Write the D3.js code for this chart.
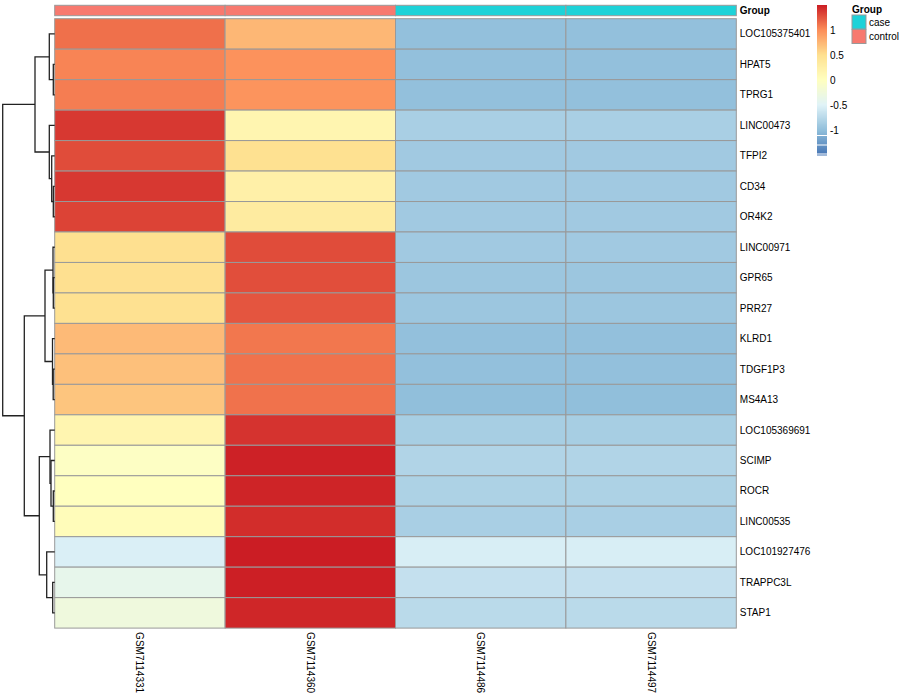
<!DOCTYPE html>
<html>
<head>
<meta charset="utf-8">
<script src="https://cdn.jsdelivr.net/npm/d3@7"></script>
<style>
  html, body { margin: 0; padding: 0; background: #fff; }
  svg { display: block; font-family: "Liberation Sans", Arial, Helvetica, sans-serif; }
</style>
</head>
<body>
<svg id="chart" width="900" height="700"></svg>
<script>
// ---------------- data ----------------
const genes = ["LOC105375401","HPAT5","TPRG1","LINC00473","TFPI2","CD34","OR4K2",
  "LINC00971","GPR65","PRR27","KLRD1","TDGF1P3","MS4A13",
  "LOC105369691","SCIMP","ROCR","LINC00535","LOC101927476","TRAPPC3L","STAP1"];
const samples = ["GSM7114331","GSM7114360","GSM7114486","GSM7114497"];
const sampleGroup = ["control","control","case","case"];
const groups = ["case","control"];
const groupColors = ["#1DD2D8","#F7796F"];

// row-scaled expression (z-scores), one array per sample column
const valGSM7114331 = [1.13,1.04,1.07,1.38,1.29,1.38,1.33,0.50,0.50,0.49,0.73,0.69,0.66,0.16,-0.04,0.00,0.05,-0.54,-0.39,-0.26];
const valGSM7114360 = [0.75,0.97,0.96,0.16,0.49,0.25,0.33,1.29,1.28,1.25,1.10,1.12,1.12,1.40,1.48,1.47,1.43,1.50,1.49,1.46];
const valGSM7114486 = [-0.99,-0.99,-0.99,-0.85,-0.90,-0.90,-0.90,-0.90,-0.93,-0.93,-0.99,-0.99,-1.00,-0.86,-0.80,-0.82,-0.85,-0.55,-0.68,-0.74];
const valGSM7114497 = [-0.99,-0.99,-0.99,-0.85,-0.90,-0.90,-0.90,-0.90,-0.93,-0.93,-0.99,-0.99,-1.00,-0.86,-0.80,-0.82,-0.85,-0.55,-0.68,-0.74];
const columns = [valGSM7114331, valGSM7114360, valGSM7114486, valGSM7114497];

// row dendrogram in hclust "merge" format: [left, right, height]; negative = leaf (1-based display row)
const merges = [
  [-2,-3,1.4],[-1,1,5.4],[-6,-7,1.4],[-5,3,3.0],[-4,4,5.4],[2,5,19.7],
  [-9,-10,1.4],[-8,7,1.7],[-12,-13,1.5],[-11,9,2.2],[8,10,9.7],
  [-16,-17,1.4],[-15,12,3.7],[-14,13,4.7],[-19,-20,2.0],[-18,15,8.0],
  [14,16,15.4],[11,17,30.4],[6,18,52.0]
];

// colour legend
const colorStops = [-1.5,-1,-0.5,0,0.5,1,1.5];
const colorRange = ["#4575B4","#91BFDB","#E0F3F8","#FFFFBF","#FEE090","#FC8D59","#CB1D24"];
const legendTicks = [1,0.5,0,-0.5,-1];
const legendTickLabels = ["1","0.5","0","-0.5","-1"];

// ---------------- drawing ----------------
const svg = d3.select("#chart");
const hm = {x0: 54.7, x1: 736.3, y0: 18.7, y1: 628.1};
const ann = {y0: 5.3, y1: 15.7};
const gridColor = "#999999";

const x = d3.scaleBand().domain(samples).range([hm.x0, hm.x1]).padding(0);
const y = d3.scaleBand().domain(genes).range([hm.y0, hm.y1]).padding(0);
const color = d3.scaleLinear().domain(colorStops).range(colorRange).interpolate(d3.interpolateRgb).clamp(true);
const groupColor = d3.scaleOrdinal().domain(groups).range(groupColors);

// annotation bar
svg.append("g").selectAll("rect").data(samples).join("rect")
  .attr("x", d => x(d)).attr("y", ann.y0)
  .attr("width", x.bandwidth()).attr("height", ann.y1 - ann.y0)
  .attr("fill", (d,i) => groupColor(sampleGroup[i]))
  .attr("stroke", gridColor).attr("stroke-width", 1);
svg.append("text").attr("x", hm.x1 + 3.5).attr("y", (ann.y0+ann.y1)/2)
  .attr("dy","0.35em").attr("font-size", 10).attr("font-weight","bold").text("Group");

// heatmap cells
const cells = [];
columns.forEach((col, ci) => col.forEach((v, ri) => cells.push({s: samples[ci], g: genes[ri], v})));
svg.append("g").selectAll("rect").data(cells).join("rect")
  .attr("x", d => x(d.s)).attr("y", d => y(d.g))
  .attr("width", x.bandwidth()).attr("height", y.bandwidth())
  .attr("fill", d => color(d.v))
  .attr("stroke", gridColor).attr("stroke-width", 1);

// row labels
svg.append("g").selectAll("text").data(genes).join("text")
  .attr("x", hm.x1 + 3.5).attr("y", d => y(d) + y.bandwidth()/2)
  .attr("dy","0.35em").attr("font-size", 10).text(d => d);

// column labels (rotated)
svg.append("g").selectAll("text").data(samples).join("text")
  .attr("transform", d => `translate(${x(d) + x.bandwidth()/2},${hm.y1 + 4}) rotate(90)`)
  .attr("dy","0.35em").attr("font-size", 10).text(d => d);

// dendrogram
const maxH = d3.max(merges, m => m[2]);
const hx = d3.scaleLinear().domain([0, maxH]).range([hm.x0, 2.7]);
const nodeY = [], nodeH = [];
function pos(ref) {
  if (ref < 0) return {y: y(genes[-ref-1]) + y.bandwidth()/2, h: 0};
  return {y: nodeY[ref-1], h: nodeH[ref-1]};
}
const segs = [];
merges.forEach((m, i) => {
  const a = pos(m[0]), b = pos(m[1]), h = m[2];
  nodeY[i] = (a.y + b.y)/2; nodeH[i] = h;
  segs.push(`M${hx(a.h)},${a.y}H${hx(h)}V${b.y}H${hx(b.h)}`);
});
svg.append("g").selectAll("path").data(segs).join("path")
  .attr("d", d => d).attr("fill","none").attr("stroke","#222").attr("stroke-width",1.3);

// colour legend
const ly = d3.scaleLinear().domain([1.5, -1.5]).range([5, 155]);
const lg = svg.append("g");
const nSteps = 150;
const stepV = d3.range(nSteps).map(i => 1.5 - 3 * (i + 0.5) / nSteps);
lg.selectAll("rect").data(stepV).join("rect")
  .attr("x", 817).attr("width", 10)
  .attr("y", d => ly(d + 1.5/nSteps)).attr("height", ly(0) - ly(3/nSteps) + 0.5)
  .attr("fill", d => color(d));
[-1.1, -1.29, -1.47].forEach(v => lg.append("rect").attr("x", 817).attr("width", 10)
  .attr("y", ly(v)).attr("height", 1).attr("fill", "#fff"));
lg.selectAll("text").data(legendTicks).join("text")
  .attr("x", 830).attr("y", d => ly(d)).attr("dy","0.35em").attr("font-size", 10)
  .text((d,i) => legendTickLabels[i]);

// group legend
const gl = svg.append("g");
gl.append("text").attr("x", 852).attr("y", 9).attr("dy","0.35em")
  .attr("font-size", 10).attr("font-weight","bold").text("Group");
gl.selectAll("rect").data(groups).join("rect")
  .attr("x", 852).attr("y", (d,i) => 15 + i*14.5).attr("width", 14).attr("height", 14)
  .attr("fill", d => groupColor(d)).attr("stroke", gridColor).attr("stroke-width", 1);
gl.selectAll("text.lab").data(groups).join("text").attr("class","lab")
  .attr("x", 869).attr("y", (d,i) => 22 + i*14.5).attr("dy","0.35em")
  .attr("font-size", 10).text(d => d);
</script>
</body>
</html>
